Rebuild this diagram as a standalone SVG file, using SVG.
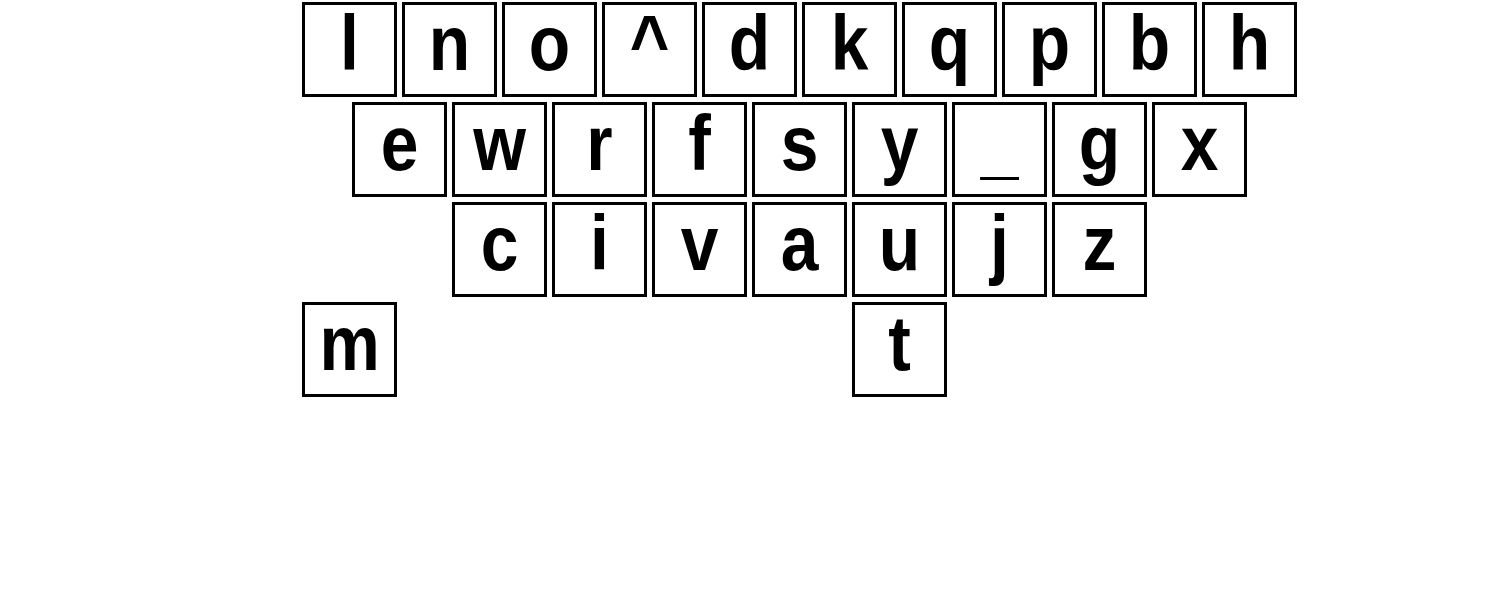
<svg xmlns="http://www.w3.org/2000/svg" width="1500" height="600" viewBox="0 0 1500 600">
<style>
.k rect{fill:#fff;stroke:#000;stroke-width:3}
.k text{font-family:"Liberation Sans",Arial,sans-serif;font-weight:bold;font-size:77px;text-anchor:middle;fill:#000}
</style>
<rect width="1500" height="600" fill="#fff"/>
<g id="key-l" class="k"><rect x="303.5" y="3.5" width="92" height="92"/><text transform="translate(349.5,70) scale(0.88,1)">l</text></g>
<g id="key-n" class="k"><rect x="403.5" y="3.5" width="92" height="92"/><text transform="translate(449.5,70) scale(0.88,1)">n</text></g>
<g id="key-o" class="k"><rect x="503.5" y="3.5" width="92" height="92"/><text transform="translate(549.5,70) scale(0.88,1)">o</text></g>
<g id="key-caret" class="k"><rect x="603.5" y="3.5" width="92" height="92"/><text transform="translate(649.5,70) scale(0.88,1)">^</text></g>
<g id="key-d" class="k"><rect x="703.5" y="3.5" width="92" height="92"/><text transform="translate(749.5,70) scale(0.88,1)">d</text></g>
<g id="key-k" class="k"><rect x="803.5" y="3.5" width="92" height="92"/><text transform="translate(849.5,70) scale(0.88,1)">k</text></g>
<g id="key-q" class="k"><rect x="903.5" y="3.5" width="92" height="92"/><text transform="translate(949.5,70) scale(0.88,1)">q</text></g>
<g id="key-p" class="k"><rect x="1003.5" y="3.5" width="92" height="92"/><text transform="translate(1049.5,70) scale(0.88,1)">p</text></g>
<g id="key-b" class="k"><rect x="1103.5" y="3.5" width="92" height="92"/><text transform="translate(1149.5,70) scale(0.88,1)">b</text></g>
<g id="key-h" class="k"><rect x="1203.5" y="3.5" width="92" height="92"/><text transform="translate(1249.5,70) scale(0.88,1)">h</text></g>
<g id="key-e" class="k"><rect x="353.5" y="103.5" width="92" height="92"/><text transform="translate(399.5,170) scale(0.88,1)">e</text></g>
<g id="key-w" class="k"><rect x="453.5" y="103.5" width="92" height="92"/><text transform="translate(499.5,170) scale(0.88,1)">w</text></g>
<g id="key-r" class="k"><rect x="553.5" y="103.5" width="92" height="92"/><text transform="translate(599.5,170) scale(0.88,1)">r</text></g>
<g id="key-f" class="k"><rect x="653.5" y="103.5" width="92" height="92"/><text transform="translate(699.5,170) scale(0.88,1)">f</text></g>
<g id="key-s" class="k"><rect x="753.5" y="103.5" width="92" height="92"/><text transform="translate(799.5,170) scale(0.88,1)">s</text></g>
<g id="key-y" class="k"><rect x="853.5" y="103.5" width="92" height="92"/><text transform="translate(899.5,170) scale(0.88,1)">y</text></g>
<g id="key-underscore" class="k"><rect x="953.5" y="103.5" width="92" height="92"/><text transform="translate(999.5,170) scale(0.88,1)">_</text></g>
<g id="key-g" class="k"><rect x="1053.5" y="103.5" width="92" height="92"/><text transform="translate(1099.5,170) scale(0.88,1)">g</text></g>
<g id="key-x" class="k"><rect x="1153.5" y="103.5" width="92" height="92"/><text transform="translate(1199.5,170) scale(0.88,1)">x</text></g>
<g id="key-c" class="k"><rect x="453.5" y="203.5" width="92" height="92"/><text transform="translate(499.5,270) scale(0.88,1)">c</text></g>
<g id="key-i" class="k"><rect x="553.5" y="203.5" width="92" height="92"/><text transform="translate(599.5,270) scale(0.88,1)">i</text></g>
<g id="key-v" class="k"><rect x="653.5" y="203.5" width="92" height="92"/><text transform="translate(699.5,270) scale(0.88,1)">v</text></g>
<g id="key-a" class="k"><rect x="753.5" y="203.5" width="92" height="92"/><text transform="translate(799.5,270) scale(0.88,1)">a</text></g>
<g id="key-u" class="k"><rect x="853.5" y="203.5" width="92" height="92"/><text transform="translate(899.5,270) scale(0.88,1)">u</text></g>
<g id="key-j" class="k"><rect x="953.5" y="203.5" width="92" height="92"/><text transform="translate(999.5,270) scale(0.88,1)">j</text></g>
<g id="key-z" class="k"><rect x="1053.5" y="203.5" width="92" height="92"/><text transform="translate(1099.5,270) scale(0.88,1)">z</text></g>
<g id="key-m" class="k"><rect x="303.5" y="303.5" width="92" height="92"/><text transform="translate(349.5,370) scale(0.88,1)">m</text></g>
<g id="key-t" class="k"><rect x="853.5" y="303.5" width="92" height="92"/><text transform="translate(899.5,370) scale(0.88,1)">t</text></g>
<g id="connectors"/>
</svg>
